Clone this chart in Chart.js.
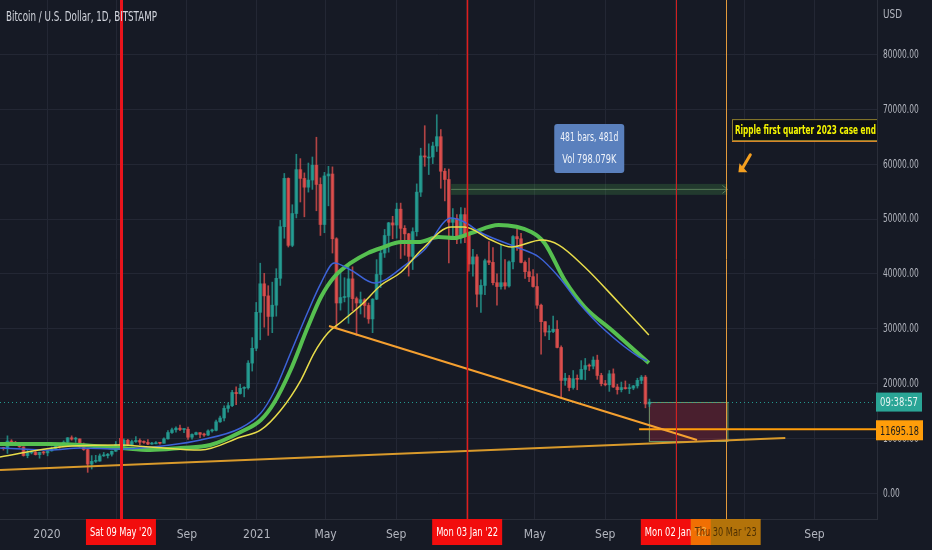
<!DOCTYPE html>
<html>
<head>
<meta charset="utf-8">
<script src="https://cdn.jsdelivr.net/npm/chart.js@4.4.0/dist/chart.umd.min.js"></script>
<style>
  html, body { margin: 0; padding: 0; background: #161a25; overflow: hidden; }
  #wrap { width: 932px; height: 550px; position: relative; }
</style>
</head>
<body>
<div id="wrap"><canvas id="btc"></canvas></div>
<script>
// BTC/USD weekly candles.
// x values are days since 1 Jan 2020, first week starts Mon 14 Oct 2019
var firstWeekDay = -79;
var firstOpen = 8290;
var weekClose = [
  8220, 9550, 9200, 8800, 8500, 6900, 7400, 7510, 7070, 7510, 7390, 7760,
  8180, 8900, 8600, 9350, 10150, 9900, 9950, 8550, 8000, 5350, 5850, 5900, 6850, 6900, 7150, 7700, 8900,
  8750, 9700, 8900, 9450, 9650, 9350, 9300, 9000, 9050, 9250, 9150, 9950, 11100, 11600, 11900, 11650,
  11700, 10250, 10750, 11080, 10770, 10650, 11400, 11500, 13050, 13750, 15500, 16000, 18400, 18200,
  19150, 19250, 23750, 26450, 33000,
  38200, 36000, 32250, 34300, 39200, 48600, 57400, 45200, 51000, 59000, 57400, 55800, 57100, 59800,
  56300, 49000, 57850, 58200, 46400, 34700, 35700, 35800, 39100, 35500, 34700, 35300, 34250, 31800,
  35400, 39900, 43800, 47000, 49300, 48900, 51800, 48300, 47300, 43200, 47700, 54900, 61500, 61300,
  61300, 63300, 65000, 58700, 57200, 49400, 50100, 46700, 50800, 47300,
  41800, 43100, 36300, 37900, 42400, 42100, 38400, 37700, 38400, 37800, 42200, 46800, 46400, 42100,
  40400, 39500, 37700, 34300, 31300, 29400, 29500, 29900, 26600, 20600, 21000, 19300, 20900, 20800,
  22600, 23300, 23200, 24300, 21500, 20000, 19800, 21800, 19400, 18900, 19300, 19100, 19200, 19600,
  20600, 21200, 16300, 16650
];
var weekHigh = [
  8420, 10500, 9800, 9500, 9100, 8500, 7850, 7750, 7650, 7520, 7700, 7800,
  8460, 9190, 8950, 9600, 10180, 10500, 10250, 9950, 9200, 8200, 6900, 6950, 7200, 7480, 7300, 7730, 9470,
  10050, 9950, 9880, 9750, 10380, 9950, 9600, 9800, 9300, 9450, 9330, 10150, 11450, 11900, 12150, 12450,
  11800, 12100, 10850, 11200, 11100, 11000, 11600, 11750, 13350, 14100, 15950, 16500, 18800, 19450,
  19900, 19450, 24200, 28400, 34800,
  41950, 40100, 37850, 38500, 40950, 49750, 58300, 57500, 52600, 61800, 61000, 58400, 60200, 61300,
  64900, 57500, 58500, 59600, 59500, 46600, 40900, 39300, 41300, 41300, 35800, 36700, 35500, 34700,
  35500, 42600, 44800, 48100, 49400, 50500, 52900, 52900, 48800, 47400, 48400, 56400, 62900, 67000,
  63700, 64000, 69000, 66300, 59200, 59100, 51900, 50800, 52100, 52000,
  47500, 44500, 43500, 38900, 42700, 45900, 44800, 40000, 45400, 42600, 42400, 47000, 48200, 47400,
  42400, 42900, 40800, 40000, 34500, 31300, 30600, 32300, 31500, 26900, 21900, 21500, 22400, 21600,
  24200, 24600, 23600, 24900, 25200, 21900, 20600, 22400, 22700, 19900, 20300, 20500, 19900, 19700,
  21000, 21500, 21500, 17200
];
var weekLow = [
  7900, 7300, 8950, 8700, 8400, 6800, 6500, 7200, 7000, 6430, 7100, 6850,
  7700, 8100, 8250, 8550, 9150, 9700, 9300, 8400, 7850, 3850, 4450, 5650, 5870, 6750, 6460, 6800, 7650,
  8150, 8200, 8800, 8650, 9300, 8900, 9100, 8900, 8950, 9050, 9000, 9150, 9900, 10950, 11150, 11450,
  11100, 9850, 9900, 10650, 10150, 10400, 10530, 11150, 11380, 12950, 13200, 14800, 15800, 16200,
  18100, 17600, 19000, 22300, 26000,
  28000, 30300, 28800, 29300, 32300, 37900, 46500, 44900, 44950, 50200, 53100, 50400, 54900, 55400,
  51500, 47000, 47500, 52400, 43800, 30000, 33400, 34900, 31000, 33300, 28800, 32700, 32100, 31000,
  29300, 35300, 37500, 43000, 43950, 46400, 46500, 42800, 43400, 39600, 40800, 46900, 54100, 59600,
  58100, 60100, 62300, 55600, 53300, 42000, 46700, 45500, 45600, 45700,
  40500, 39600, 34000, 33000, 36200, 41700, 38000, 34300, 37200, 37200, 37600, 40900, 44300, 42000,
  39200, 38600, 37600, 33700, 25400, 28700, 28000, 29300, 26500, 17600, 19700, 18700, 19000, 18900,
  20800, 20700, 22400, 22700, 20800, 19600, 19600, 18600, 19300, 18100, 18500, 19000, 18200, 18900,
  19200, 20000, 15600, 15800
];

// moving averages
var blueDays = [-82, 5, 58, 128, 215, 268, 338, 373, 396, 425, 455, 478, 501, 530, 571, 630, 658, 705, 728, 758, 823, 858, 893, 928, 973, 1033, 1047];
var blueVals = [8290, 7920, 8290, 8100, 8830, 9745, 11930, 14660, 18490, 25590, 33060, 38340, 41990, 40710, 38340, 41990, 44350, 50180, 49450, 47450, 44720, 43080, 39440, 34700, 29780, 24860, 24140];
var greenDays = [-82, 5, 58, 128, 180, 233, 285, 338, 373, 396, 425, 455, 478, 501, 530, 560, 583, 618, 648, 683, 711, 740, 788, 845, 868, 903, 938, 985, 1050];
var greenVals = [9000, 9020, 8830, 8290, 7920, 8290, 8830, 11200, 13390, 16480, 22500, 30330, 35790, 39440, 41990, 43810, 44720, 45810, 45810, 46720, 46540, 47450, 48910, 47630, 45630, 38890, 33970, 29780, 23770];
var yellowDays = [-82, 23, 128, 180, 268, 338, 373, 408, 443, 466, 490, 513, 548, 583, 618, 653, 705, 728, 775, 810, 863, 893, 938, 998, 1050];
var yellowVals = [6650, 8470, 8830, 8470, 7920, 10290, 11570, 15210, 20670, 25590, 29230, 31240, 34330, 37980, 40350, 44350, 48540, 48540, 46170, 44900, 46170, 45260, 41260, 34700, 28870];

// drawings
var wedgeDays = [492, 1134];
var wedgeVals = [30510, 9745];
var supportDays = [-82, 1288];
var supportVals = [4280, 10110];
var levelPrice = 11695.18;
var levelFrom = 1033;
var lastPrice = 16650;
var markerDays = [129, 733, 1097, 1184];
var markerLabels = ["Sat 09 May '20", "Mon 03 Jan '22", "Mon 02 Jan '23", "Thu 30 Mar '23"];
var rangeDays = [705, 1187];
var rangeVals = [54400, 56400];
var boxDays = [1050, 1187];
var boxVals = [9560, 16670];

// axes
var xTickDays = [0, 121, 244, 366, 486, 609, 731, 851, 974, 1096, 1216, 1339];
var xTickLabels = ["2020", "", "Sep", "2021", "May", "Sep", "", "May", "Sep", "", "", "Sep"];
var yTicks = [0, 10000, 20000, 30000, 40000, 50000, 60000, 70000, 80000];

var FONT = "'Liberation Sans Narrow', 'DejaVu Sans Condensed', 'Liberation Sans', Arial, sans-serif";
var BG = "#161a25", GRID = "#232734", TXT = "#b2b5be";
Chart.defaults.font.family = FONT;

var wickData = [], bodyData = [];
for (var i = 0; i < weekClose.length; i++) {
  var d = firstWeekDay + i * 7 + 3;
  var o = i === 0 ? firstOpen : weekClose[i - 1];
  var c = weekClose[i];
  wickData.push({ x: d, y: [weekLow[i], weekHigh[i]], up: c >= o });
  bodyData.push({ x: d, y: [o, c], up: c >= o });
}
function pts(days, vals) {
  return days.map(function(v, k) { return { x: v, y: vals[k] }; });
}
function candleColor(ctx) {
  var r = ctx.raw;
  return r && r.up ? "rgba(38,166,154,0.75)" : "rgba(239,83,80,0.72)";
}

// squeeze text horizontally so it fits in w pixels (TradingView font is condensed)
function fitText(ctx, t, x, y, w, align) {
  var m = ctx.measureText(t).width;
  var s = Math.min(1, w / m);
  ctx.save();
  ctx.translate(x, y);
  ctx.scale(s, 1);
  ctx.textAlign = align || "left";
  ctx.fillText(t, 0, 0);
  ctx.restore();
}
function roundRect(ctx, x, y, w, h, r) {
  ctx.beginPath();
  ctx.moveTo(x + r, y);
  ctx.arcTo(x + w, y, x + w, y + h, r);
  ctx.arcTo(x + w, y + h, x, y + h, r);
  ctx.arcTo(x, y + h, x, y, r);
  ctx.arcTo(x, y, x + w, y, r);
  ctx.closePath();
}

var drawings = {
  id: "drawings",
  beforeDraw: function(chart) {
    var ctx = chart.ctx;
    ctx.save();
    ctx.fillStyle = BG;
    ctx.fillRect(0, 0, chart.width, chart.height);
    ctx.restore();
    // price labels on the right axis are condensed like the original font
    var ys = chart.scales.y;
    if (!ys._squeezed) {
      var orig = ys.drawLabels;
      ys.drawLabels = function(ca) {
        var c = this.ctx, x0 = this.left + 6, r = this.right;
        c.save();
        c.translate(x0, 0);
        c.scale(0.64, 1);
        c.translate(-x0, 0);
        this.right = this.left + 120; // keep the label clip wide enough after squeezing
        orig.call(this, ca);
        this.right = r;
        c.restore();
      };
      ys._squeezed = true;
    }
  },
  beforeDatasetsDraw: function(chart) {
    var ctx = chart.ctx, a = chart.chartArea, sx = chart.scales.x, sy = chart.scales.y;
    ctx.save();
    ctx.beginPath();
    ctx.rect(a.left, a.top, a.right - a.left, a.bottom - a.top);
    ctx.clip();
    // red box
    var x1 = sx.getPixelForValue(boxDays[0]), x2 = sx.getPixelForValue(boxDays[1]);
    var y1 = sy.getPixelForValue(boxVals[1]), y2 = sy.getPixelForValue(boxVals[0]);
    ctx.fillStyle = "rgba(150,40,60,0.4)";
    ctx.fillRect(x1, y1, x2 - x1, y2 - y1);
    ctx.strokeStyle = "rgba(130,200,130,0.7)";
    ctx.lineWidth = 1;
    ctx.strokeRect(x1 + 0.5, y1 + 0.5, x2 - x1, y2 - y1);
    // date/price range band
    x1 = sx.getPixelForValue(rangeDays[0]); x2 = sx.getPixelForValue(rangeDays[1]);
    y1 = sy.getPixelForValue(rangeVals[1]); y2 = sy.getPixelForValue(rangeVals[0]);
    ctx.fillStyle = "rgba(76,175,80,0.22)";
    ctx.fillRect(x1, y1, x2 - x1, y2 - y1);
    var ym = (y1 + y2) / 2;
    ctx.strokeStyle = "rgba(150,200,140,0.45)";
    ctx.beginPath();
    ctx.moveTo(x1, ym); ctx.lineTo(x2, ym);
    ctx.moveTo(x2 - 5, ym - 4); ctx.lineTo(x2, ym); ctx.lineTo(x2 - 5, ym + 4);
    ctx.stroke();
    // last price dotted line
    var yp = Math.round(sy.getPixelForValue(lastPrice)) + 0.5;
    ctx.strokeStyle = "rgba(38,166,154,0.9)";
    ctx.setLineDash([1, 3]);
    ctx.beginPath();
    ctx.moveTo(a.left, yp); ctx.lineTo(a.right, yp);
    ctx.stroke();
    ctx.restore();
  },
  afterDatasetsDraw: function(chart) {
    var ctx = chart.ctx, a = chart.chartArea, sx = chart.scales.x, sy = chart.scales.y;
    ctx.save();
    ctx.beginPath();
    ctx.rect(a.left, a.top, a.right - a.left, a.bottom - a.top);
    ctx.clip();
    // vertical markers
    var mc = ["#e8141c", "#e01c1c", "#d21f1f", "#e39a3b"];
    var mw = [3, 1.5, 1, 1];
    for (var k = 0; k < markerDays.length; k++) {
      var xv = Math.round(sx.getPixelForValue(markerDays[k])) + 0.5;
      ctx.strokeStyle = mc[k];
      ctx.lineWidth = mw[k];
      ctx.beginPath();
      ctx.moveTo(xv, a.top); ctx.lineTo(xv, a.bottom);
      ctx.stroke();
    }
    // measure label
    var cx = sx.getPixelForValue(946);
    var ty = sy.getPixelForValue(67300), by = sy.getPixelForValue(58380);
    ctx.fillStyle = "#5a80bd";
    roundRect(ctx, cx - 35, ty, 70, by - ty, 3);
    ctx.fill();
    ctx.fillStyle = "#f0f3fa";
    ctx.font = "13px " + FONT;
    ctx.textBaseline = "middle";
    fitText(ctx, "481 bars, 481d", cx, ty + 14, 58, "center");
    fitText(ctx, "Vol 798.079K", cx, by - 13, 54, "center");
    // note box
    var nx = sx.getPixelForValue(1195);
    var nt = sy.getPixelForValue(68200), nb = sy.getPixelForValue(64400);
    ctx.fillStyle = "#0d0f15";
    ctx.fillRect(nx, nt, a.right - nx, nb - nt);
    ctx.strokeStyle = "#8f7f2e";
    ctx.lineWidth = 1;
    ctx.strokeRect(nx + 0.5, nt + 0.5, a.right - nx + 2, nb - nt);
    ctx.strokeStyle = "#e0882a";
    ctx.beginPath();
    ctx.moveTo(nx, nb + 1.5); ctx.lineTo(a.right, nb + 1.5);
    ctx.stroke();
    ctx.fillStyle = "#f5f500";
    ctx.font = "bold 13px " + FONT;
    fitText(ctx, "Ripple first quarter 2023 case end", nx + 3, (nt + nb) / 2 + 1, 141, "left");
    // arrow
    var ax1 = sx.getPixelForValue(1227), ay1 = sy.getPixelForValue(61700);
    var ax2 = sx.getPixelForValue(1208), ay2 = sy.getPixelForValue(58700);
    ctx.strokeStyle = "#f5a020";
    ctx.fillStyle = "#f5a020";
    ctx.lineWidth = 3;
    ctx.lineCap = "round";
    ctx.beginPath();
    ctx.moveTo(ax1, ay1); ctx.lineTo(ax2 + 3, ay2 - 3);
    ctx.stroke();
    ctx.beginPath();
    ctx.moveTo(ax2 - 1, ay2 + 1);
    ctx.lineTo(ax2, ay2 - 8);
    ctx.lineTo(ax2 + 8, ay2 + 1);
    ctx.closePath();
    ctx.fill();
    ctx.restore();
    // title
    ctx.save();
    ctx.fillStyle = "#d1d4dc";
    ctx.font = "14px " + FONT;
    ctx.textBaseline = "middle";
    fitText(ctx, "Bitcoin / U.S. Dollar, 1D, BITSTAMP", 6, 17, 151, "left");
    ctx.restore();
  },
  afterDraw: function(chart) {
    var ctx = chart.ctx, a = chart.chartArea, sx = chart.scales.x, sy = chart.scales.y;
    ctx.save();
    ctx.textBaseline = "middle";
    ctx.font = "13px " + FONT;
    ctx.fillStyle = TXT;
    fitText(ctx, "USD", a.right + 6, 15, 19, "left");
    // price boxes on the axis
    var yp = sy.getPixelForValue(lastPrice);
    ctx.fillStyle = "#2aa596";
    ctx.fillRect(a.right - 1, yp - 9.5, 46, 19);
    ctx.fillStyle = "#e6f4f2";
    fitText(ctx, "09:38:57", a.right + 22, yp + 1, 38, "center");
    var yl = sy.getPixelForValue(levelPrice) + 1;
    ctx.fillStyle = "#ff9d0a";
    ctx.fillRect(a.right - 1, yl - 10, 47, 20);
    ctx.fillStyle = "#1c1c1c";
    fitText(ctx, levelPrice.toFixed(2), a.right + 22.5, yl + 1, 39, "center");
    // date boxes on the time axis
    var fills = ["#f20d0d", "#f20d0d", "#f20d0d", "rgba(240,150,0,0.72)"];
    var inks = ["#ffffff", "#ffffff", "#ffffff", "rgba(50,30,0,0.8)"];
    for (var k = 0; k < markerDays.length; k++) {
      var xc = sx.getPixelForValue(markerDays[k]);
      ctx.fillStyle = fills[k];
      ctx.fillRect(xc - 35, a.bottom, 70, 26);
      ctx.fillStyle = inks[k];
      fitText(ctx, markerLabels[k], xc, a.bottom + 14, 62, "center");
    }
    ctx.restore();
  }
};

new Chart(document.getElementById("btc"), {
  type: "bar",
  data: {
    datasets: [
      { type: "line", label: "support", data: pts(supportDays, supportVals), borderColor: "#d99a2b", borderWidth: 2, pointRadius: 0, order: 1 },
      { type: "line", label: "wedge", data: pts(wedgeDays, wedgeVals), borderColor: "#f5a030", borderWidth: 2, pointRadius: 0, order: 1 },
      { type: "line", label: "level", data: [{ x: levelFrom, y: levelPrice }, { x: 1448, y: levelPrice }], borderColor: "#ff9d0a", borderWidth: 2, pointRadius: 0, order: 1 },
      { type: "line", label: "yellow", data: pts(yellowDays, yellowVals), borderColor: "#e8dc4a", borderWidth: 1.5, pointRadius: 0, tension: 0.4, cubicInterpolationMode: "monotone", order: 3 },
      { type: "line", label: "blue", data: pts(blueDays, blueVals), borderColor: "#3d63d8", borderWidth: 1.5, pointRadius: 0, tension: 0.4, cubicInterpolationMode: "monotone", order: 4 },
      { type: "line", label: "green", data: pts(greenDays, greenVals), borderColor: "#56c050", borderWidth: 4, pointRadius: 0, tension: 0.4, cubicInterpolationMode: "monotone", order: 5 },
      { type: "bar", label: "body", data: bodyData, backgroundColor: candleColor, barThickness: 3, minBarLength: 1, grouped: false, order: 10 },
      { type: "bar", label: "wick", data: wickData, backgroundColor: candleColor, barThickness: 1, grouped: false, order: 11 }
    ]
  },
  options: {
    responsive: true,
    maintainAspectRatio: false,
    animation: false,
    layout: { padding: 0 },
    plugins: { legend: { display: false }, tooltip: { enabled: false } },
    scales: {
      x: {
        type: "linear", min: -82, max: 1448, offset: false,
        grid: { color: GRID, drawTicks: false, offset: false },
        border: { color: "#2a2e39" },
        ticks: {
          padding: 9, color: TXT, font: { size: 12 }, maxRotation: 0, autoSkip: false,
          callback: function(v) { var k = xTickDays.indexOf(v); return k < 0 ? "" : xTickLabels[k]; }
        },
        afterBuildTicks: function(s) { s.ticks = xTickDays.map(function(v) { return { value: v }; }); },
        afterFit: function(s) { s.height = 31; s.paddingLeft = 0; s.paddingRight = 0; }
      },
      y: {
        position: "right", min: -4650, max: 89900,
        grid: { color: GRID, drawTicks: false },
        border: { color: "#2a2e39" },
        ticks: { padding: 6, color: TXT, font: { size: 13 }, callback: function(v) { return v.toFixed(2); } },
        afterBuildTicks: function(s) { s.ticks = yTicks.map(function(v) { return { value: v }; }); },
        afterFit: function(s) { s.width = 55; s.paddingTop = 0; s.paddingBottom = 0; }
      }
    }
  },
  plugins: [drawings]
});
</script>
</body>
</html>
